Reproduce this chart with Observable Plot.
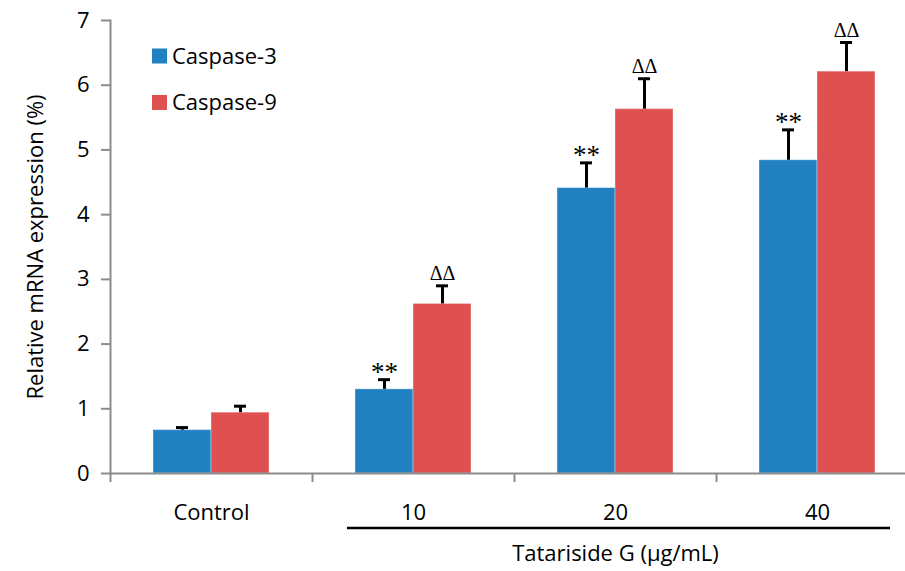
<!DOCTYPE html>
<html>
<head>
<meta charset="utf-8">
<script src="https://cdn.jsdelivr.net/npm/d3@7"></script>
<script src="https://cdn.jsdelivr.net/npm/@observablehq/plot@0.6"></script>
<style>
  body { margin: 0; background: white; }
</style>
</head>
<body>
<div id="chart"></div>
<script>
const groups = ["Control", "10", "20", "40"];
const series = ["Caspase-3", "Caspase-9"];
const casp3 = [0.67, 1.30, 4.41, 4.84];
const casp3Err = [0.04, 0.15, 0.39, 0.47];
const casp9 = [0.94, 2.62, 5.63, 6.21];
const casp9Err = [0.10, 0.28, 0.47, 0.45];
const sig3 = ["", "**", "**", "**"];
const sig9 = ["", "ΔΔ", "ΔΔ", "ΔΔ"];
const yTicks = [0, 1, 2, 3, 4, 5, 6, 7];
const colors = ["#2180C0", "#DE5150"];
const xTitle = "Tatariside G (μg/mL)";
const yTitle = "Relative mRNA expression (%)";

const rows3 = groups.map((g, i) => ({group: g, value: casp3[i], err: casp3Err[i], sig: sig3[i]}));
const rows9 = groups.map((g, i) => ({group: g, value: casp9[i], err: casp9Err[i], sig: sig9[i]}));

const font = "'Open Sans', 'Noto Sans', sans-serif";
const serif = "'Liberation Serif', 'DejaVu Serif', serif";
const fs = 22;

const chart = Plot.plot({
  width: 905,
  height: 571,
  marginLeft: 110,
  marginRight: -13,
  marginTop: 20,
  marginBottom: 98,
  style: {fontFamily: font, fontSize: fs + "px", color: "black", background: "white"},
  x: {type: "band", domain: groups, padding: 0},
  y: {domain: [0, 7]},
  marks: [
    // bars
    Plot.barY(rows3, {x: "group", y: "value", fill: colors[0], insetLeft: 43, insetRight: 101, stroke: "#ffffff", strokeOpacity: 0.35, strokeWidth: 1}),
    Plot.barY(rows9, {x: "group", y: "value", fill: colors[1], insetLeft: 101, insetRight: 43, stroke: "#ffffff", strokeOpacity: 0.35, strokeWidth: 1}),
    // error bars
    Plot.ruleX(rows3, {x: "group", y1: "value", y2: d => d.value + d.err, dx: -29, stroke: "black", strokeWidth: 3}),
    Plot.ruleX(rows9, {x: "group", y1: "value", y2: d => d.value + d.err, dx: 29, stroke: "black", strokeWidth: 3}),
    Plot.tickY(rows3, {x: "group", y: d => d.value + d.err, insetLeft: 66, insetRight: 124, stroke: "black", strokeWidth: 3}),
    Plot.tickY(rows9, {x: "group", y: d => d.value + d.err, insetLeft: 124, insetRight: 66, stroke: "black", strokeWidth: 3}),
    // significance marks
    Plot.text(rows3, {x: "group", y: d => d.value + d.err, text: "sig", dx: -29, dy: 1, lineAnchor: "bottom", fontFamily: serif, fontSize: 27, fill: "black"}),
    Plot.text(rows9, {x: "group", y: d => d.value + d.err, text: "sig", dx: 29, dy: -6, lineAnchor: "bottom", fontFamily: serif, fontSize: 20, fill: "black"}),
    // axes
    Plot.frame({anchor: "left", stroke: "#8c8c8c", strokeWidth: 2}),
    Plot.frame({anchor: "bottom", stroke: "#8c8c8c", strokeWidth: 2}),
    Plot.axisY(yTicks, {tickSize: 9, tickPadding: 12, tickFormat: "d", stroke: "#8c8c8c", strokeWidth: 2, fontSize: fs, fill: "black", label: yTitle, labelAnchor: "center", labelArrow: "none", labelOffset: 83}),
    Plot.axisX({tickSize: 0, tickPadding: 31, fontSize: fs, fill: "black", label: null}),
    Plot.ruleX(groups, {x: d => d, y1: 0, y2: 0, dx: -101, insetBottom: -9, stroke: "#8c8c8c", strokeWidth: 2}),
    Plot.text([xTitle], {x: () => "20", frameAnchor: "bottom", dy: 87, fontSize: fs, fill: "black"})
  ]
});

document.getElementById("chart").appendChild(chart);

const svg = d3.select(chart);
// legend
const legend = svg.append("g").attr("font-family", font).attr("font-size", fs).attr("text-anchor", "start");
series.forEach((s, i) => {
  const cy = 56 + i * 46.5;
  legend.append("rect").attr("x", 152).attr("y", cy - 7.5).attr("width", 15).attr("height", 15).attr("fill", colors[i]);
  legend.append("text").attr("x", 172).attr("y", cy).attr("dy", "0.35em").attr("fill", "black").text(s);
});

// bracket line under the dose groups
const xs = chart.scale("x");
const bw = xs.bandwidth;
const x1 = xs.apply("10") + 35;
const x2 = xs.apply("40") + bw - 28;
const y0 = chart.scale("y").apply(0);
svg.append("line").attr("x1", x1).attr("x2", x2).attr("y1", y0 + 55).attr("y2", y0 + 55)
  .attr("stroke", "black").attr("stroke-width", 2.5);
</script>
</body>
</html>
